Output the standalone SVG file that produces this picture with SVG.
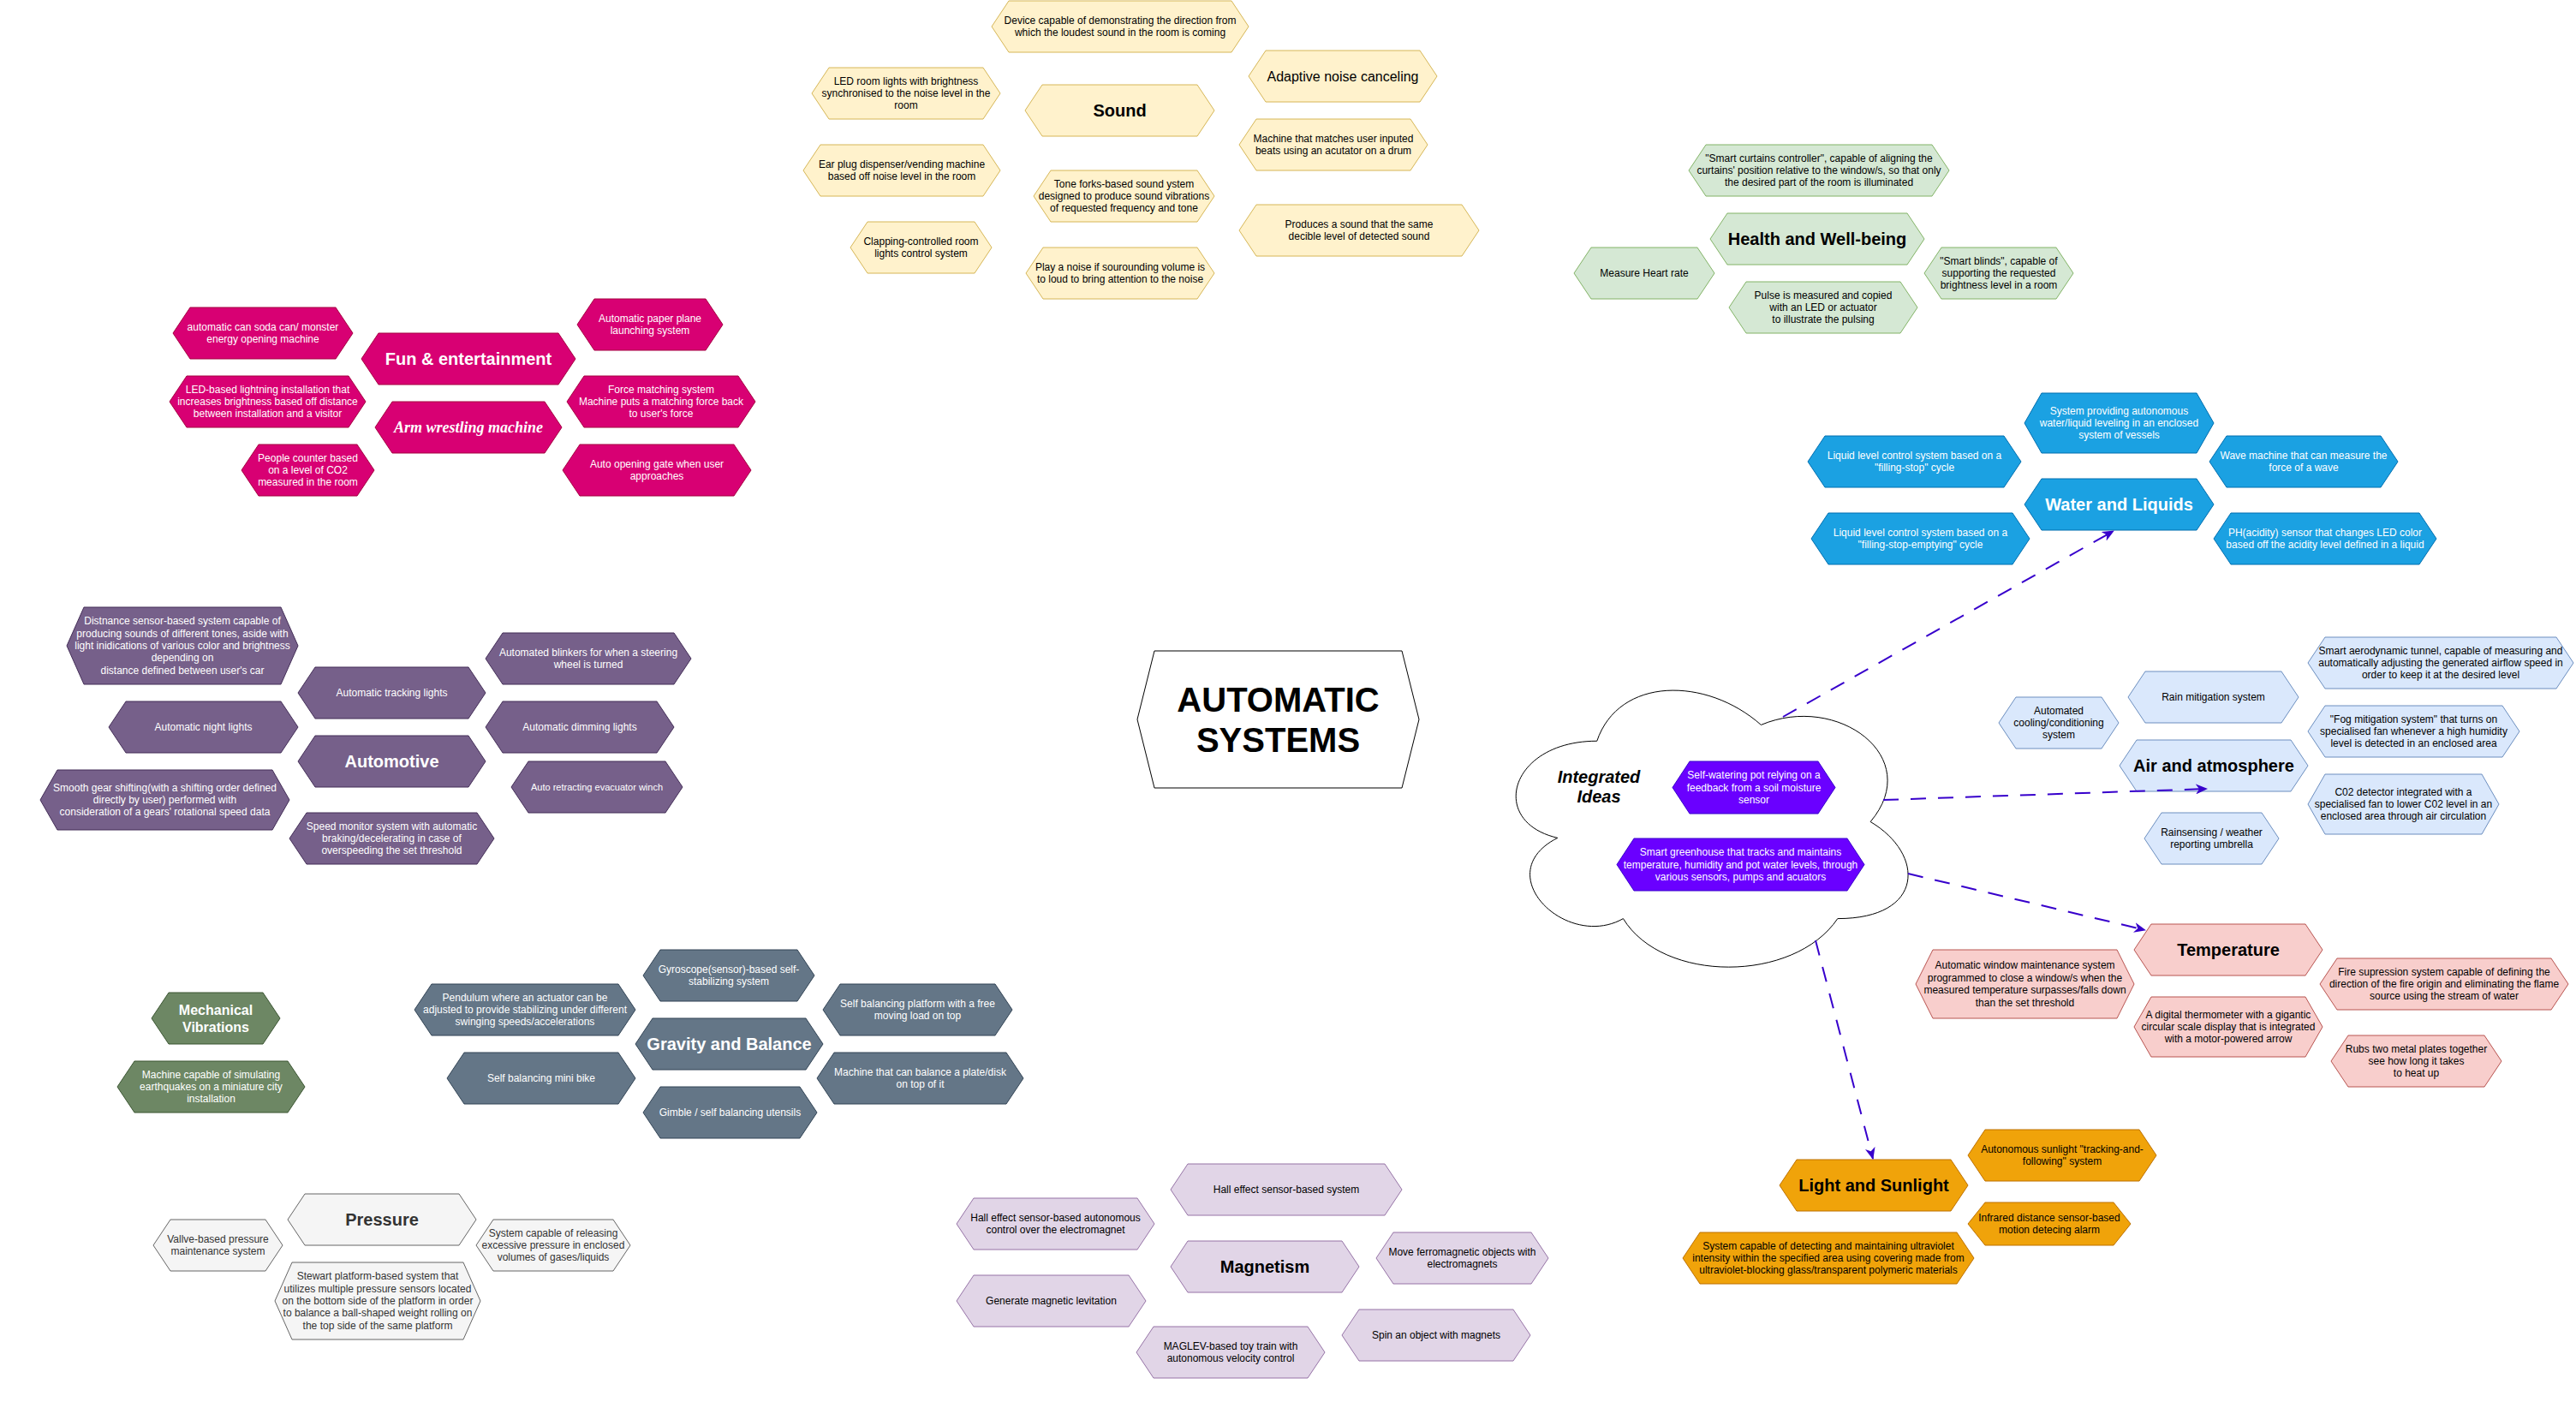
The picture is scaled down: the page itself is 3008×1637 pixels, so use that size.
<svg xmlns="http://www.w3.org/2000/svg" width="3008" height="1637" viewBox="0 0 3008 1637">
<style>
.n path{stroke-width:1}
text,tspan{font-family:"Liberation Sans",Arial,Helvetica,sans-serif;font-size:12px;text-anchor:middle;dominant-baseline:central}
text{fill:#000}
.wt text{fill:#fff}
.tt{font-size:20px;font-weight:bold}
.snd path{fill:#fff2cc;stroke:#d6b656}
.fun path{fill:#d80073;stroke:#a50040}
.hw path{fill:#d5e8d4;stroke:#82b366}
.wl path{fill:#1ba1e2;stroke:#006eaf}
.air path{fill:#dae8fc;stroke:#6c8ebf}
.au path{fill:#76608a;stroke:#432d57}
.int path{fill:#6a00ff;stroke:#3700cc}
.tmp path{fill:#f8cecc;stroke:#b85450}
.mv path{fill:#6d8764;stroke:#3a5431}
.gb path{fill:#647687;stroke:#314354}
.pr path{fill:#f5f5f5;stroke:#666666}
.pr text{fill:#333333}
.mg path{fill:#e1d5e7;stroke:#9673a6}
.lt path{fill:#f0a30a;stroke:#bd7000}
.edge{fill:none;stroke:#3700cc;stroke-width:2;stroke-dasharray:18 14}
</style>
<defs>
<marker id="arr" viewBox="0 0 14 12" refX="13" refY="6" markerWidth="14" markerHeight="12" markerUnits="userSpaceOnUse" orient="auto">
<path d="M0,0 L14,6 L0,12 L4,6 z" fill="#3700cc"/>
</marker>
</defs>
<rect width="3008" height="1637" fill="#ffffff"/>

<!-- Sound -->
<g id="sound" class="n snd"><path d="M1197,129 l20,-30 h181 l20,30 l-20,30 h-181 z"/><text x="1307.5" y="129" class="tt">Sound</text></g>
<g id="snd-device" class="n snd"><path d="M1158,31 l20,-30 h260 l20,30 l-20,30 h-260 z"/><text><tspan x="1308" y="23.8">Device capable of demonstrating the direction from</tspan><tspan x="1308" y="38.2">which the loudest sound in the room is coming</tspan></text></g>
<g id="snd-led" class="n snd"><path d="M948,109 l20,-30 h180 l20,30 l-20,30 h-180 z"/><text><tspan x="1058" y="94.6">LED room lights with brightness</tspan><tspan x="1058" y="109">synchronised to the noise level in the</tspan><tspan x="1058" y="123.4">room</tspan></text></g>
<g id="snd-adaptive" class="n snd"><path d="M1458,89 l20,-30 h180 l20,30 l-20,30 h-180 z"/><text x="1568" y="89" style="font-size:16px">Adaptive noise canceling</text></g>
<g id="snd-machine" class="n snd"><path d="M1447,169 l20,-30 h180 l20,30 l-20,30 h-180 z"/><text><tspan x="1557" y="161.8">Machine that matches user inputed</tspan><tspan x="1557" y="176.2">beats using an acutator on a drum</tspan></text></g>
<g id="snd-earplug" class="n snd"><path d="M938,199 l20,-30 h190 l20,30 l-20,30 h-190 z"/><text><tspan x="1053" y="191.8">Ear plug dispenser/vending machine</tspan><tspan x="1053" y="206.2">based off noise level in the room</tspan></text></g>
<g id="snd-tone" class="n snd"><path d="M1207,229 l20,-30 h171 l20,30 l-20,30 h-171 z"/><text><tspan x="1312.5" y="214.6">Tone forks-based sound ystem</tspan><tspan x="1312.5" y="229">designed to produce sound vibrations</tspan><tspan x="1312.5" y="243.4">of requested frequency and tone</tspan></text></g>
<g id="snd-clap" class="n snd"><path d="M993,289 l20,-30 h125 l20,30 l-20,30 h-125 z"/><text><tspan x="1075.5" y="281.8">Clapping-controlled room</tspan><tspan x="1075.5" y="296.2">lights control system</tspan></text></g>
<g id="snd-play" class="n snd"><path d="M1198,319 l20,-30 h180 l20,30 l-20,30 h-180 z"/><text><tspan x="1308" y="311.8">Play a noise if sourounding volume is</tspan><tspan x="1308" y="326.2">to loud to bring attention to the noise</tspan></text></g>
<g id="snd-produces" class="n snd"><path d="M1447,269 l20,-30 h240 l20,30 l-20,30 h-240 z"/><text><tspan x="1587" y="261.8">Produces a sound that the same</tspan><tspan x="1587" y="276.2">decible level of detected sound</tspan></text></g>

<!-- Fun & entertainment -->
<g id="fun" class="n fun wt"><path d="M422,419 l20,-30 h210 l20,30 l-20,30 h-210 z"/><text x="547" y="419" class="tt">Fun &amp; entertainment</text></g>
<g id="fun-soda" class="n fun wt"><path d="M202,389 l20,-30 h170 l20,30 l-20,30 h-170 z"/><text><tspan x="307" y="381.8">automatic can soda can/ monster</tspan><tspan x="307" y="396.2">energy opening machine</tspan></text></g>
<g id="fun-plane" class="n fun wt"><path d="M674,379 l20,-30 h130 l20,30 l-20,30 h-130 z"/><text><tspan x="759" y="371.8">Automatic paper plane</tspan><tspan x="759" y="386.2">launching system</tspan></text></g>
<g id="fun-led" class="n fun wt"><path d="M198,469 l20,-30 h189 l20,30 l-20,30 h-189 z"/><text><tspan x="312.5" y="454.6">LED-based lightning installation that</tspan><tspan x="312.5" y="469">increases brightness based off distance</tspan><tspan x="312.5" y="483.4">between installation and a visitor</tspan></text></g>
<g id="fun-arm" class="n fun wt"><path d="M438,499 l20,-30 h178 l20,30 l-20,30 h-178 z"/><text x="547" y="499" style="font-family:'Liberation Serif','Times New Roman',serif;font-size:18px;font-weight:bold;font-style:italic">Arm wrestling machine</text></g>
<g id="fun-force" class="n fun wt"><path d="M662,469 l20,-30 h180 l20,30 l-20,30 h-180 z"/><text><tspan x="772" y="454.6">Force matching system</tspan><tspan x="772" y="469">Machine puts a matching force back</tspan><tspan x="772" y="483.4">to user's force</tspan></text></g>
<g id="fun-people" class="n fun wt"><path d="M282,549 l20,-30 h115 l20,30 l-20,30 h-115 z"/><text><tspan x="359.5" y="534.6">People counter based</tspan><tspan x="359.5" y="549">on a level of CO2</tspan><tspan x="359.5" y="563.4">measured in the room</tspan></text></g>
<g id="fun-gate" class="n fun wt"><path d="M657,549 l20,-30 h180 l20,30 l-20,30 h-180 z"/><text><tspan x="767" y="541.8">Auto opening gate when user</tspan><tspan x="767" y="556.2">approaches</tspan></text></g>

<!-- Health -->
<g id="health" class="n hw"><path d="M1997,279 l20,-30 h210 l20,30 l-20,30 h-210 z"/><text x="2122" y="279" class="tt">Health and Well-being</text></g>
<g id="hw-curtains" class="n hw"><path d="M1972,199 l20,-30 h264 l20,30 l-20,30 h-264 z"/><text><tspan x="2124" y="184.6">"Smart curtains controller", capable of aligning the</tspan><tspan x="2124" y="199">curtains' position relative to the window/s, so that only</tspan><tspan x="2124" y="213.4">the desired part of the room is illuminated</tspan></text></g>
<g id="hw-heart" class="n hw"><path d="M1838,319 l20,-30 h124 l20,30 l-20,30 h-124 z"/><text x="1920" y="319">Measure Heart rate</text></g>
<g id="hw-pulse" class="n hw"><path d="M2019,359 l20,-30 h180 l20,30 l-20,30 h-180 z"/><text><tspan x="2129" y="344.6">Pulse is measured and copied</tspan><tspan x="2129" y="359">with an LED or actuator</tspan><tspan x="2129" y="373.4">to illustrate the pulsing</tspan></text></g>
<g id="hw-blinds" class="n hw"><path d="M2247,319 l20,-30 h134 l20,30 l-20,30 h-134 z"/><text><tspan x="2334" y="304.6">"Smart blinds", capable of</tspan><tspan x="2334" y="319">supporting the requested</tspan><tspan x="2334" y="333.4">brightness level in a room</tspan></text></g>

<!-- Water -->
<g id="water" class="n wl wt"><path d="M2364,589 l20,-30 h181 l20,30 l-20,30 h-181 z"/><text x="2474.5" y="589" class="tt">Water and Liquids</text></g>
<g id="wl-system" class="n wl wt"><path d="M2364,494 l20,-35 h181 l20,35 l-20,35 h-181 z"/><text><tspan x="2474.5" y="479.6">System providing autonomous</tspan><tspan x="2474.5" y="494">water/liquid leveling in an enclosed</tspan><tspan x="2474.5" y="508.4">system of vessels</tspan></text></g>
<g id="wl-liquid1" class="n wl wt"><path d="M2111,539 l20,-30 h209 l20,30 l-20,30 h-209 z"/><text><tspan x="2235.5" y="531.8">Liquid level control system based on a</tspan><tspan x="2235.5" y="546.2">"filling-stop" cycle</tspan></text></g>
<g id="wl-wave" class="n wl wt"><path d="M2580,539 l20,-30 h180 l20,30 l-20,30 h-180 z"/><text><tspan x="2690" y="531.8">Wave machine that can measure the</tspan><tspan x="2690" y="546.2">force of a wave</tspan></text></g>
<g id="wl-liquid2" class="n wl wt"><path d="M2115,629 l20,-30 h215 l20,30 l-20,30 h-215 z"/><text><tspan x="2242.5" y="621.8">Liquid level control system based on a</tspan><tspan x="2242.5" y="636.2">"filling-stop-emptying" cycle</tspan></text></g>
<g id="wl-ph" class="n wl wt"><path d="M2585,629 l20,-30 h220 l20,30 l-20,30 h-220 z"/><text><tspan x="2715" y="621.8">PH(acidity) sensor that changes LED color</tspan><tspan x="2715" y="636.2">based off the acidity level defined in a liquid</tspan></text></g>

<!-- Air -->
<g id="air" class="n air"><path d="M2475,894 l20,-30 h180 l20,30 l-20,30 h-180 z"/><text x="2585" y="894" class="tt">Air and atmosphere</text></g>
<g id="air-tunnel" class="n air"><path d="M2695,774 l20,-30 h270 l20,30 l-20,30 h-270 z"/><text><tspan x="2850" y="759.6">Smart aerodynamic tunnel, capable of measuring and</tspan><tspan x="2850" y="774">automatically adjusting the generated airflow speed in</tspan><tspan x="2850" y="788.4">order to keep it at the desired level</tspan></text></g>
<g id="air-rain" class="n air"><path d="M2485,814 l20,-30 h159 l20,30 l-20,30 h-159 z"/><text x="2584.5" y="814">Rain mitigation system</text></g>
<g id="air-cooling" class="n air"><path d="M2334,844 l20,-30 h100 l20,30 l-20,30 h-100 z"/><text><tspan x="2404" y="829.6">Automated</tspan><tspan x="2404" y="844">cooling/conditioning</tspan><tspan x="2404" y="858.4">system</tspan></text></g>
<g id="air-fog" class="n air"><path d="M2695,854 l20,-30 h207 l20,30 l-20,30 h-207 z"/><text><tspan x="2818.5" y="839.6">"Fog mitigation system" that turns on</tspan><tspan x="2818.5" y="854">specialised fan whenever a high humidity</tspan><tspan x="2818.5" y="868.4">level is detected in an enclosed area</tspan></text></g>
<g id="air-co2" class="n air"><path d="M2695,939 l20,-35 h183 l20,35 l-20,35 h-183 z"/><text><tspan x="2806.5" y="924.6">C02 detector integrated with a</tspan><tspan x="2806.5" y="939">specialised fan to lower C02 level in an</tspan><tspan x="2806.5" y="953.4">enclosed area through air circulation</tspan></text></g>
<g id="air-umbrella" class="n air"><path d="M2504,979 l20,-30 h117 l20,30 l-20,30 h-117 z"/><text><tspan x="2582.5" y="971.8">Rainsensing / weather</tspan><tspan x="2582.5" y="986.2">reporting umbrella</tspan></text></g>

<!-- Automotive -->
<g id="automotive" class="n au wt"><path d="M348,889 l20,-30 h179 l20,30 l-20,30 h-179 z"/><text x="457.5" y="889" class="tt">Automotive</text></g>
<g id="au-distance" class="n au wt"><path d="M78,754 l20,-45 h230 l20,45 l-20,45 h-230 z"/><text><tspan x="213" y="725.2">Distnance sensor-based system capable of</tspan><tspan x="213" y="739.6">producing sounds of different tones, aside with</tspan><tspan x="213" y="754">light inidications of various color and brightness</tspan><tspan x="213" y="768.4">depending on</tspan><tspan x="213" y="782.8">distance defined between user's car</tspan></text></g>
<g id="au-blinkers" class="n au wt"><path d="M567,769 l20,-30 h200 l20,30 l-20,30 h-200 z"/><text><tspan x="687" y="761.8">Automated blinkers for when a steering</tspan><tspan x="687" y="776.2">wheel is turned</tspan></text></g>
<g id="au-tracking" class="n au wt"><path d="M348,809 l20,-30 h179 l20,30 l-20,30 h-179 z"/><text x="457.5" y="809">Automatic tracking lights</text></g>
<g id="au-night" class="n au wt"><path d="M127,849 l20,-30 h181 l20,30 l-20,30 h-181 z"/><text x="237.5" y="849">Automatic night lights</text></g>
<g id="au-dimming" class="n au wt"><path d="M567,849 l20,-30 h180 l20,30 l-20,30 h-180 z"/><text x="677" y="849">Automatic dimming lights</text></g>
<g id="au-winch" class="n au wt"><path d="M597,919 l20,-30 h160 l20,30 l-20,30 h-160 z"/><text x="697" y="919" style="font-size:11px">Auto retracting evacuator winch</text></g>
<g id="au-gear" class="n au wt"><path d="M47,934 l20,-35 h251 l20,35 l-20,35 h-251 z"/><text><tspan x="192.5" y="919.6">Smooth gear shifting(with a shifting order defined</tspan><tspan x="192.5" y="934">directly by user) performed with</tspan><tspan x="192.5" y="948.4">consideration of a gears' rotational speed data</tspan></text></g>
<g id="au-speed" class="n au wt"><path d="M338,979 l20,-30 h199 l20,30 l-20,30 h-199 z"/><text><tspan x="457.5" y="964.6">Speed monitor system with automatic</tspan><tspan x="457.5" y="979">braking/decelerating in case of</tspan><tspan x="457.5" y="993.4">overspeeding the set threshold</tspan></text></g>

<!-- Main -->
<g id="main" class="n"><path d="M1328,840 l20,-80 h289 l20,80 l-20,80 h-289 z" fill="#ffffff" stroke="#000000"/><text style="font-size:40px;font-weight:bold"><tspan x="1492.5" y="816.5" style="font-size:40px">AUTOMATIC</tspan><tspan x="1492.5" y="863.5" style="font-size:40px">SYSTEMS</tspan></text></g>

<!-- Integrated ideas cloud -->
<g id="integrated" class="n"><path d="M1864.75,865.25 C1762.55,865.25 1737,959.5 1818.76,978.35 C1737,1019.82 1828.98,1110.3 1895.41,1072.6 C1941.4,1148 2094.7,1148 2145.8,1072.6 C2248,1072.6 2248,997.2 2184.13,959.5 C2248,884.1 2145.8,808.7 2056.38,846.4 C1992.5,789.85 1890.3,789.85 1864.75,865.25 Z" fill="#ffffff" stroke="#000000"/><text style="font-size:20px;font-style:italic;font-weight:bold"><tspan x="1867" y="906.5" style="font-size:20px">Integrated</tspan><tspan x="1867" y="930" style="font-size:20px">Ideas</tspan></text></g>
<g id="int-pot" class="n int wt"><path d="M1953,919.5 l20,-30.5 h150 l20,30.5 l-20,30.5 h-150 z"/><text><tspan x="2048" y="905.1">Self-watering pot relying on a</tspan><tspan x="2048" y="919.5">feedback from a soil moisture</tspan><tspan x="2048" y="933.9">sensor</tspan></text></g>
<g id="int-greenhouse" class="n int wt"><path d="M1888,1009.5 l20,-30.5 h249 l20,30.5 l-20,30.5 h-249 z"/><text><tspan x="2032.5" y="995.1">Smart greenhouse that tracks and maintains</tspan><tspan x="2032.5" y="1009.5">temperature, humidity and pot water levels, through</tspan><tspan x="2032.5" y="1023.9">various sensors, pumps and acuators</tspan></text></g>

<!-- Temperature -->
<g id="temperature" class="n tmp"><path d="M2492,1109 l20,-30 h180 l20,30 l-20,30 h-180 z"/><text x="2602" y="1109" class="tt">Temperature</text></g>
<g id="t-window" class="n tmp"><path d="M2237,1149 l20,-40 h215 l20,40 l-20,40 h-215 z"/><text><tspan x="2364.5" y="1127.4">Automatic window maintenance system</tspan><tspan x="2364.5" y="1141.8">programmed to close a window/s when the</tspan><tspan x="2364.5" y="1156.2">measured temperature surpasses/falls down</tspan><tspan x="2364.5" y="1170.6">than the set threshold</tspan></text></g>
<g id="t-fire" class="n tmp"><path d="M2709,1149 l20,-30 h250 l20,30 l-20,30 h-250 z"/><text><tspan x="2854" y="1134.6">Fire supression system capable of defining the</tspan><tspan x="2854" y="1149">direction of the fire origin and eliminating the flame</tspan><tspan x="2854" y="1163.4">source using the stream of water</tspan></text></g>
<g id="t-thermo" class="n tmp"><path d="M2492,1199 l20,-35 h180 l20,35 l-20,35 h-180 z"/><text><tspan x="2602" y="1184.6">A digital thermometer with a gigantic</tspan><tspan x="2602" y="1199">circular scale display that is integrated</tspan><tspan x="2602" y="1213.4">with a motor-powered arrow</tspan></text></g>
<g id="t-rubs" class="n tmp"><path d="M2722,1239 l20,-30 h159 l20,30 l-20,30 h-159 z"/><text><tspan x="2821.5" y="1224.6">Rubs two metal plates together</tspan><tspan x="2821.5" y="1239">see how long it takes</tspan><tspan x="2821.5" y="1253.4">to heat up</tspan></text></g>

<!-- Mechanical vibrations -->
<g id="mechanical" class="n mv wt"><path d="M177,1189 l20,-30 h110 l20,30 l-20,30 h-110 z"/><text style="font-size:16px;font-weight:bold"><tspan x="252" y="1179.4" style="font-size:16px">Mechanical</tspan><tspan x="252" y="1198.6" style="font-size:16px">Vibrations</tspan></text></g>
<g id="mv-quake" class="n mv wt"><path d="M137,1269 l20,-30 h179 l20,30 l-20,30 h-179 z"/><text><tspan x="246.5" y="1254.6">Machine capable of simulating</tspan><tspan x="246.5" y="1269">earthquakes on a miniature city</tspan><tspan x="246.5" y="1283.4">installation</tspan></text></g>

<!-- Gravity and balance -->
<g id="gravity" class="n gb wt"><path d="M742,1219 l20,-30 h179 l20,30 l-20,30 h-179 z"/><text x="851.5" y="1219" class="tt">Gravity and Balance</text></g>
<g id="gb-gyro" class="n gb wt"><path d="M751,1139 l20,-30 h160 l20,30 l-20,30 h-160 z"/><text><tspan x="851" y="1131.8">Gyroscope(sensor)-based self-</tspan><tspan x="851" y="1146.2">stabilizing system</tspan></text></g>
<g id="gb-pendulum" class="n gb wt"><path d="M484,1179 l20,-30 h218 l20,30 l-20,30 h-218 z"/><text><tspan x="613" y="1164.6">Pendulum where an actuator can be</tspan><tspan x="613" y="1179">adjusted to provide stabilizing under different</tspan><tspan x="613" y="1193.4">swinging speeds/accelerations</tspan></text></g>
<g id="gb-platform" class="n gb wt"><path d="M961,1179 l20,-30 h181 l20,30 l-20,30 h-181 z"/><text><tspan x="1071.5" y="1171.8">Self balancing platform with a free</tspan><tspan x="1071.5" y="1186.2">moving load on top</tspan></text></g>
<g id="gb-bike" class="n gb wt"><path d="M522,1259 l20,-30 h180 l20,30 l-20,30 h-180 z"/><text x="632" y="1259">Self balancing mini bike</text></g>
<g id="gb-plate" class="n gb wt"><path d="M954,1259 l20,-30 h201 l20,30 l-20,30 h-201 z"/><text><tspan x="1074.5" y="1251.8">Machine that can balance a plate/disk</tspan><tspan x="1074.5" y="1266.2">on top of it</tspan></text></g>
<g id="gb-gimble" class="n gb wt"><path d="M751,1299 l20,-30 h163 l20,30 l-20,30 h-163 z"/><text x="852.5" y="1299">Gimble / self balancing utensils</text></g>

<!-- Pressure -->
<g id="pressure" class="n pr"><path d="M336,1424 l20,-30 h180 l20,30 l-20,30 h-180 z"/><text x="446" y="1424" class="tt">Pressure</text></g>
<g id="p-valve" class="n pr"><path d="M179,1454 l20,-30 h111 l20,30 l-20,30 h-111 z"/><text><tspan x="254.5" y="1446.8">Vallve-based pressure</tspan><tspan x="254.5" y="1461.2">maintenance system</tspan></text></g>
<g id="p-release" class="n pr"><path d="M556,1454 l20,-30 h140 l20,30 l-20,30 h-140 z"/><text><tspan x="646" y="1439.6">System capable of releasing</tspan><tspan x="646" y="1454">excessive pressure in enclosed</tspan><tspan x="646" y="1468.4">volumes of gases/liquids</tspan></text></g>
<g id="p-stewart" class="n pr"><path d="M321,1519 l20,-45 h200 l20,45 l-20,45 h-200 z"/><text><tspan x="441" y="1490.2">Stewart platform-based system that</tspan><tspan x="441" y="1504.6">utilizes multiple pressure sensors located</tspan><tspan x="441" y="1519">on the bottom side of the platform in order</tspan><tspan x="441" y="1533.4">to balance a ball-shaped weight rolling on</tspan><tspan x="441" y="1547.8">the top side of the same platform</tspan></text></g>

<!-- Magnetism -->
<g id="magnetism" class="n mg"><path d="M1367,1479 l20,-30 h180 l20,30 l-20,30 h-180 z"/><text x="1477" y="1479" class="tt">Magnetism</text></g>
<g id="m-hall" class="n mg"><path d="M1367,1389 l20,-30 h230 l20,30 l-20,30 h-230 z"/><text x="1502" y="1389">Hall effect sensor-based system</text></g>
<g id="m-hallauto" class="n mg"><path d="M1117,1429 l20,-30 h191 l20,30 l-20,30 h-191 z"/><text><tspan x="1232.5" y="1421.8">Hall effect sensor-based autonomous</tspan><tspan x="1232.5" y="1436.2">control over the electromagnet</tspan></text></g>
<g id="m-ferro" class="n mg"><path d="M1607,1469 l20,-30 h161 l20,30 l-20,30 h-161 z"/><text><tspan x="1707.5" y="1461.8">Move ferromagnetic objects with</tspan><tspan x="1707.5" y="1476.2">electromagnets</tspan></text></g>
<g id="m-levitation" class="n mg"><path d="M1117,1519 l20,-30 h181 l20,30 l-20,30 h-181 z"/><text x="1227.5" y="1519">Generate magnetic levitation</text></g>
<g id="m-spin" class="n mg"><path d="M1567,1559 l20,-30 h180 l20,30 l-20,30 h-180 z"/><text x="1677" y="1559">Spin an object with magnets</text></g>
<g id="m-maglev" class="n mg"><path d="M1327,1579 l20,-30 h180 l20,30 l-20,30 h-180 z"/><text><tspan x="1437" y="1571.8">MAGLEV-based toy train with</tspan><tspan x="1437" y="1586.2">autonomous velocity control</tspan></text></g>

<!-- Light -->
<g id="light" class="n lt"><path d="M2078,1384 l20,-30 h180 l20,30 l-20,30 h-180 z"/><text x="2188" y="1384" class="tt">Light and Sunlight</text></g>
<g id="l-tracking" class="n lt"><path d="M2298,1349 l20,-30 h180 l20,30 l-20,30 h-180 z"/><text><tspan x="2408" y="1341.8">Autonomous sunlight "tracking-and-</tspan><tspan x="2408" y="1356.2">following" system</tspan></text></g>
<g id="l-infrared" class="n lt"><path d="M2298,1429 l20,-25 h150 l20,25 l-20,25 h-150 z"/><text><tspan x="2393" y="1421.8">Infrared distance sensor-based</tspan><tspan x="2393" y="1436.2">motion detecing alarm</tspan></text></g>
<g id="l-uv" class="n lt"><path d="M1965,1469 l20,-30 h300 l20,30 l-20,30 h-300 z"/><text><tspan x="2135" y="1454.6">System capable of detecting and maintaining ultraviolet</tspan><tspan x="2135" y="1469">intensity within the specified area using covering made from</tspan><tspan x="2135" y="1483.4">ultraviolet-blocking glass/transparent polymeric materials</tspan></text></g>

<!-- Connectors -->
<g id="connectors">
<line class="edge" x1="2082" y1="837" x2="2468" y2="620" marker-end="url(#arr)"/>
<line class="edge" x1="2199" y1="934" x2="2577" y2="921" marker-end="url(#arr)"/>
<line class="edge" x1="2228" y1="1020" x2="2505" y2="1086" marker-end="url(#arr)"/>
<line class="edge" x1="2120" y1="1098" x2="2187" y2="1353" marker-end="url(#arr)"/>
</g>
</svg>
